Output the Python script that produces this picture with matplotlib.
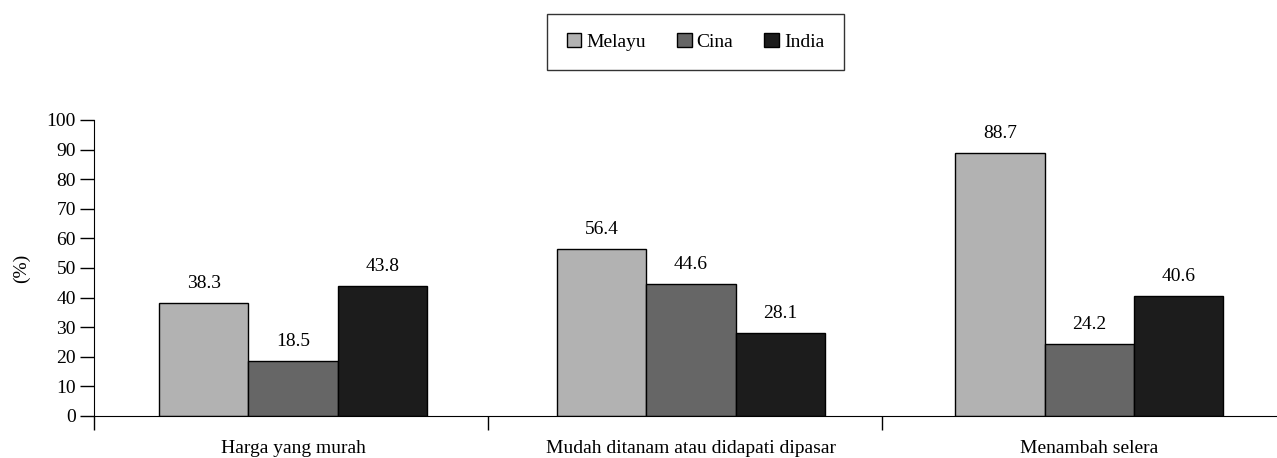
import numpy as np
import matplotlib
matplotlib.use('Agg')
import matplotlib.pyplot as plt

plt.rcParams['font.family'] = ['Liberation Serif', 'DejaVu Serif']

# data
categories = ['Harga yang murah', 'Mudah ditanam atau didapati dipasar', 'Menambah selera']
groups = ['Melayu', 'Cina', 'India']
melayu = [38.3, 56.4, 88.7]
cina = [18.5, 44.6, 24.2]
india = [43.8, 28.1, 40.6]
colors = ['#b2b2b2', '#666666', '#1c1c1c']

fs = 14

fig = plt.figure(figsize=(12.77, 4.58), dpi=100)
ax = fig.add_axes([94 / 1277, 42 / 458, 1 - 94 / 1277, 296 / 458])

x = np.arange(len(categories))
w = 0.224
series = [melayu, cina, india]
for i, (vals, name) in enumerate(zip(series, groups)):
    b = ax.bar(x + (i - 1) * w, vals, w, color=colors[i], edgecolor='black',
               linewidth=1, label=name)
    for rect, v in zip(b, vals):
        ax.annotate(f'{v:.1f}', (rect.get_x() + rect.get_width() / 2, v),
                    xytext=(0, 8), textcoords='offset points',
                    ha='center', va='bottom', fontsize=fs)

# category separators
ax.set_xticks([-0.5, 0.49, 1.48])
ax.set_xticklabels([])
ax.set_xticks(x, minor=True)
ax.set_xticklabels(categories, minor=True, fontsize=fs)
ax.tick_params(axis='x', which='minor', length=0, pad=17)
ax.tick_params(axis='x', which='major', length=10, width=1, direction='out')
ax.set_yticks(range(0, 101, 10))
ax.tick_params(axis='y', length=10, width=1, direction='out', labelsize=fs, pad=3)
ax.set_xlim(-0.5, 2.472)
ax.set_ylim(0, 100)
ax.spines['top'].set_visible(False)
ax.spines['right'].set_visible(False)
ax.set_ylabel('(%)', fontsize=fs, labelpad=12)

leg = fig.legend(loc='center', bbox_to_anchor=(695.5 / 1277, 1 - 42 / 458), ncol=3,
                 fontsize=fs, frameon=True, fancybox=False, edgecolor='black',
                 handlelength=0.75, handleheight=0.75, handletextpad=0.25,
                 columnspacing=1.6, borderpad=1.0, borderaxespad=0)
leg.get_frame().set_linewidth(1)

fig.savefig('out.png', dpi=100)
